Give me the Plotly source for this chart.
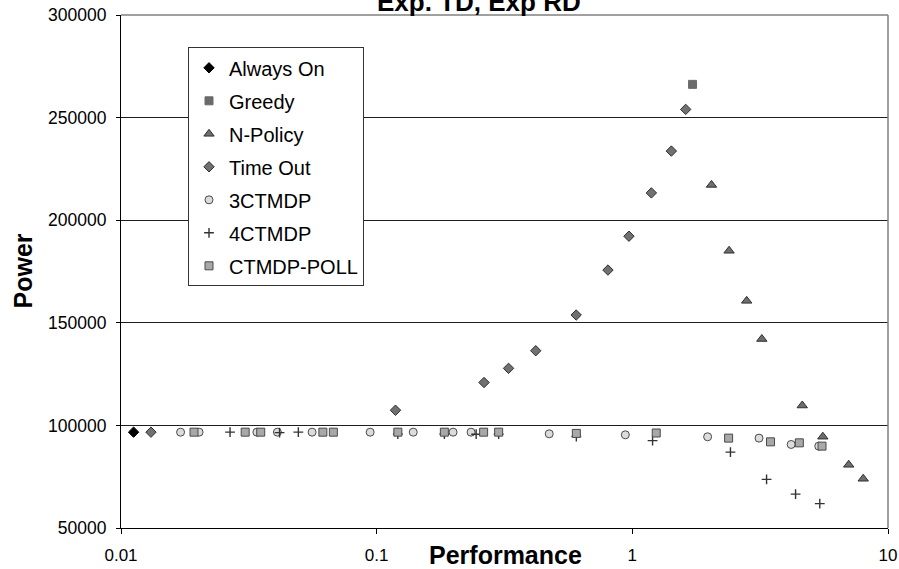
import plotly.graph_objects as go

# ---- data ----
always_on_x = [0.0112]
always_on_y = [96700]

greedy_x = [1.72]
greedy_y = [266200]

npolicy_x = [2.04, 2.39, 2.80, 3.21, 4.62, 5.56, 7.02, 8.00]
npolicy_y = [217200, 185100, 160700, 142100, 109700, 94500, 80800, 74000]

timeout_x = [0.0131, 0.1185, 0.263, 0.328, 0.419, 0.603, 0.803, 0.970, 1.187, 1.421, 1.617]
timeout_y = [96700, 107400, 120900, 127800, 136400, 153800, 175700, 192200, 213300, 233700, 254000]

ctmdp3_x = [0.0171, 0.0202, 0.0340, 0.0409, 0.0559, 0.0943, 0.139, 0.199, 0.234,
            0.473, 0.939, 1.97, 3.13, 4.18, 5.36]
ctmdp3_y = [96700, 96700, 96700, 96700, 96700, 96700, 96700, 96700, 96700,
            95900, 95400, 94450, 93800, 90700, 89900]

ctmdp4_x = [0.0267, 0.0417, 0.0494, 0.121, 0.184, 0.245, 0.300, 0.604, 1.20, 2.42, 3.35, 4.35, 5.41]
ctmdp4_y = [96700, 96500, 96700, 95800, 95800, 95700, 95700, 94600, 92600, 86960, 73700, 66500, 61900]

poll_x = [0.0193, 0.0306, 0.0352, 0.0616, 0.0677, 0.121, 0.184, 0.262, 0.300,
          0.604, 1.24, 2.38, 3.47, 4.50, 5.52]
poll_y = [96700, 96700, 96700, 96700, 96700, 96700, 96700, 96700, 96700,
          96100, 96300, 93800, 92000, 91500, 89900]

x_tickvals = [0.01, 0.1, 1, 10]
x_ticktext = ["0.01", "0.1", "1", "10"]
y_tickvals = [50000, 100000, 150000, 200000, 250000, 300000]
y_ticktext = ["50000", "100000", "150000", "200000", "250000", "300000"]

FONT = "Liberation Sans, Arial, sans-serif"

fig = go.Figure()

def add(name, xs, ys, symbol, size, color, line_color, line_width, group):
    fig.add_trace(go.Scatter(
        x=xs, y=ys, mode="markers", name=name, legendgroup=group,
        marker=dict(symbol=symbol, size=size, color=color,
                    line=dict(color=line_color, width=line_width)),
    ))

add("Always On", always_on_x, always_on_y, "diamond", 8, "#000000", "#000000", 1, "a")
add("Greedy", greedy_x, greedy_y, "square", 8, "#6a6a6a", "#6a6a6a", 1, "b")
add("N-Policy", npolicy_x, npolicy_y, "triangle-up", 9, "#6e6e6e", "#2e2e2e", 1, "c")
add("Time Out", timeout_x, timeout_y, "diamond", 8, "#707070", "#2e2e2e", 1, "d")
add("3CTMDP", ctmdp3_x, ctmdp3_y, "circle", 8, "#dcdcdc", "#4a4a4a", 1, "e")
add("4CTMDP", ctmdp4_x, ctmdp4_y, "cross-thin", 7, "#333333", "#333333", 1.4, "f")
add("CTMDP-POLL", poll_x, poll_y, "square", 8, "#a8a8a8", "#4a4a4a", 1, "g")

fig.update_layout(
    width=899, height=569,
    margin=dict(l=121, r=11, t=15, b=41, autoexpand=False),
    paper_bgcolor="white", plot_bgcolor="white",
    font=dict(family=FONT, color="black", size=17),
    showlegend=True,
    legend=dict(
        x=(188 - 121) / 767, y=0.937, xanchor="left", yanchor="top",
        bgcolor="white", bordercolor="#333333", borderwidth=1,
        font=dict(family=FONT, size=20, color="black"),
        tracegroupgap=4, itemsizing="trace",
    ),
    xaxis=dict(
        type="log", range=[-2, 1], automargin=False,
        tickvals=x_tickvals, ticktext=x_ticktext,
        showgrid=False, zeroline=False,
        showline=True, linecolor="black", linewidth=1,
        ticks="outside", ticklen=5, tickcolor="black",
        ticklabelstandoff=7,
        tickfont=dict(family=FONT, size=17, color="black"),
    ),
    yaxis=dict(
        range=[50000, 300000], automargin=False,
        tickvals=y_tickvals, ticktext=y_ticktext,
        showgrid=True, gridcolor="#1e1e1e", gridwidth=1,
        zeroline=False,
        showline=True, linecolor="black", linewidth=1,
        ticks="outside", ticklen=4, tickcolor="black",
        ticklabelstandoff=6,
        tickfont=dict(family=FONT, size=17.5, color="black"),
    ),
    shapes=[
        dict(type="line", xref="paper", yref="paper", x0=0, x1=1, y0=1, y1=1,
             line=dict(color="#808080", width=1.5), layer="above"),
        dict(type="line", xref="paper", yref="paper", x0=1, x1=1, y0=0, y1=1,
             line=dict(color="#808080", width=1.5), layer="above"),
    ],
    annotations=[
        dict(text="Exp. TD, Exp RD", xref="paper", yref="paper",
             x=(479 - 121) / 767, y=1, xanchor="center", yanchor="bottom",
             yshift=-4, showarrow=False,
             font=dict(family=FONT, size=26, color="black", weight="bold")),
        dict(text="Power", xref="paper", yref="paper",
             x=(22 - 121) / 767, y=0.5, xanchor="center", yanchor="middle",
             textangle=-90, showarrow=False,
             font=dict(family=FONT, size=25, color="black", weight="bold")),
        dict(text="Performance", xref="paper", yref="paper",
             x=(505 - 121) / 767, y=(528 - 555) / 513, xanchor="center", yanchor="middle",
             showarrow=False,
             font=dict(family=FONT, size=25, color="black", weight="bold")),
    ],
)

fig.write_html("out.html")
